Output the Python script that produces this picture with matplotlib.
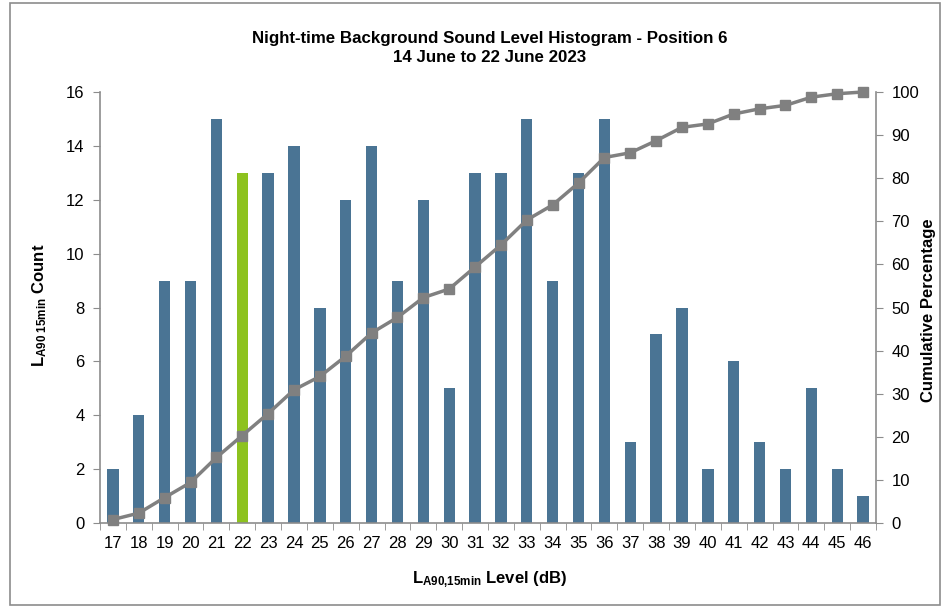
import matplotlib
matplotlib.use("Agg")
import matplotlib.pyplot as plt
from matplotlib.patches import Rectangle
import numpy as np

plt.rcParams['font.family'] = ['Liberation Sans', 'DejaVu Sans']
plt.rcParams['mathtext.fontset'] = 'custom'
plt.rcParams['mathtext.rm'] = 'Liberation Sans'
plt.rcParams['mathtext.bf'] = 'Liberation Sans:bold'
plt.rcParams['mathtext.it'] = 'Liberation Sans:italic'

levels = list(range(17, 47))
counts = [2, 4, 9, 9, 15, 13, 13, 14, 8, 12, 14, 9, 12, 5, 13, 13, 15, 9, 13, 15,
          3, 7, 8, 2, 6, 3, 2, 5, 2, 1]
cumulative = [0.8, 2.3, 5.9, 9.4, 15.2, 20.3, 25.4, 30.9, 34.0, 38.7, 44.1, 47.7,
              52.3, 54.3, 59.4, 64.5, 70.3, 73.8, 78.9, 84.8, 85.9, 88.7, 91.8,
              92.6, 94.9, 96.1, 96.9, 98.8, 99.6, 100.0]
highlight_level = 22

title = "Night-time Background Sound Level Histogram - Position 6\n14 June to 22 June 2023"

bar_color = '#4A7494'
hi_color = '#8DC21F'
line_color = '#808080'
spine_color = '#8C8C8C'

fig = plt.figure(figsize=(9.43, 6.08), dpi=100)
fig.patches.append(Rectangle((10/943, 3/608), 930/943, 602/608, transform=fig.transFigure,
                             fill=False, edgecolor='#8C8C8C', linewidth=1.2))
ax = fig.add_axes([100/943, 1-523/608, 776/943, 431/608])
x = np.arange(len(levels))
colors = [hi_color if l == highlight_level else bar_color for l in levels]
ax.bar(x, counts, width=0.44, color=colors, zorder=2)
ax.set_xlim(-0.5, len(levels)-0.5)
ax.set_ylim(0, 16)
ax.set_yticks(range(0, 17, 2))
ax.set_xticks(x)
ax.set_xticklabels([str(l) for l in levels])
ax.set_xticks(np.arange(-0.5, len(levels), 1.0), minor=True)
ax.tick_params(axis='x', which='major', length=0, pad=9, labelsize=12)
ax.tick_params(axis='x', which='minor', length=5, color=spine_color, direction='out')
ax.tick_params(axis='y', length=5, color=spine_color, labelsize=12, pad=6)
for s in ['top', 'right']:
    ax.spines[s].set_visible(False)
for s in ['left', 'bottom']:
    ax.spines[s].set_color(spine_color)
    ax.spines[s].set_linewidth(1.2)

ax2 = ax.twinx()
ax2.plot(x, cumulative, color=line_color, linewidth=2.5, marker='s', markersize=6.5,
         zorder=3, clip_on=False)
ax2.set_ylim(0, 100)
ax2.set_yticks(range(0, 101, 10))
ax2.tick_params(axis='y', length=5, color=spine_color, labelsize=12, pad=6)
for s in ['top', 'left', 'bottom']:
    ax2.spines[s].set_visible(False)
ax2.spines['right'].set_color(spine_color)
ax2.spines['right'].set_linewidth(1.2)

fig.text(490/943, 1-48/608, title, ha='center', va='center', fontsize=12.2,
         fontweight='bold', family=['Liberation Sans Narrow', 'Liberation Sans'],
         linespacing=1.25)
fig.text(40/943, 1-305/608, r'$\mathbf{L_{A90\ 15min}}$ Count', rotation=90,
         ha='center', va='center', fontsize=12, fontweight='bold')
fig.text(929/943, 1-310/608, 'Cumulative Percentage', rotation=90,
         ha='center', va='center', fontsize=12, fontweight='bold')
fig.text(490/943, 1-580/608, r'$\mathbf{L_{A90{,}15min}}$ Level (dB)',
         ha='center', va='center', fontsize=12, fontweight='bold')

fig.savefig('out.png', dpi=100)
